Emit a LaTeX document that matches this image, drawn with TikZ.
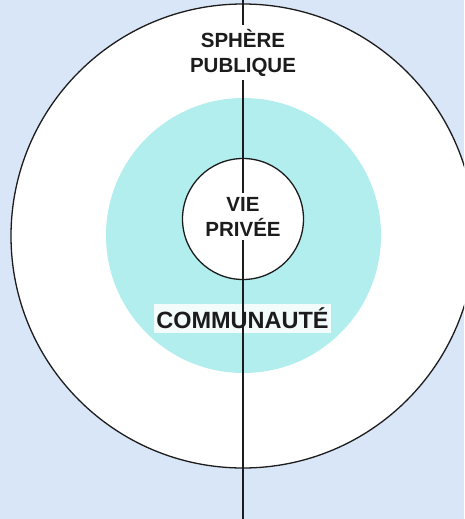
\documentclass[tikz,border=0pt]{standalone}
\usepackage{fontspec}
\setmainfont{Liberation Sans}
\usetikzlibrary{positioning}
\definecolor{cpback}{HTML}{D9E6F8}
\definecolor{cpcyan}{HTML}{B2EEEE}
\definecolor{cpink}{HTML}{1C1C1C}
\definecolor{cplabel}{HTML}{F4FBFB}

\begin{document}
\begin{tikzpicture}[x=1pt, y=-1pt, line width=1.3pt,
    tag/.style={font=\bfseries\fontsize{20.5}{25}\selectfont, text=cpink, align=center, fill=white, inner xsep=2pt, inner ysep=4pt}]
  \useasboundingbox (0,0) rectangle (464,519);
  \clip (0,0) rectangle (464,519);
  \fill[cpback] (0,0) rectangle (464,519);
  % spheres
  \draw[cpink, fill=white] (243,236) circle[radius=232pt];
  \fill[cpcyan] (243.5,235.5) circle[radius=137.5pt];
  \draw[cpink, fill=white] (243,219) circle[radius=60.5pt];
  % communaute
  \node[font=\bfseries\fontsize{23.5}{27}\selectfont, text=cpink, fill=cplabel, inner xsep=2pt, inner ysep=0pt, minimum height=29pt] (comm) at (242.5,318.5) {COMMUNAUTÉ};
  % axe
  \coordinate (top) at (243,0);
  \coordinate (bot) at (243,519);
  \draw[cpink] (top) -- (bot);
  \node[tag] (pub) at (243,52.5) {SPHÈRE\\PUBLIQUE};
  \node[tag] (priv) at (243,216.5) {VIE\\PRIVÉE};
\end{tikzpicture}
\end{document}
